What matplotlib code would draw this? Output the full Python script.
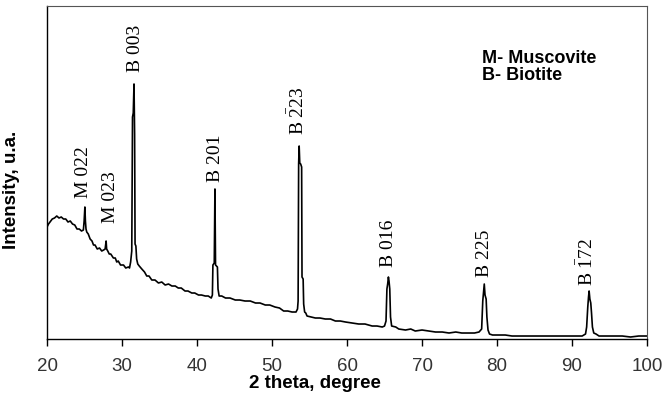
import matplotlib
matplotlib.use("Agg")
import matplotlib.pyplot as plt

# XRD pattern (intensity in arbitrary units)
two_theta = [
    20.0, 20.2, 20.4, 20.7, 21.0, 21.3, 21.6, 21.9, 22.2, 22.5, 22.8, 23.1,
    23.4, 23.7, 24.0, 24.3, 24.6, 24.85, 24.95, 25.05, 25.12, 25.2, 25.3, 25.5,
    25.75, 26.0, 26.2, 26.4, 26.7, 27.0, 27.3, 27.55, 27.75, 27.88, 27.95, 28.1,
    28.3, 28.5, 28.85, 29.1, 29.3, 29.5, 29.8, 30.2, 30.5, 30.85, 31.0, 31.15,
    31.3, 31.4, 31.5, 31.6, 31.68, 31.74, 31.85, 31.95, 32.1, 32.3, 32.64, 33.0,
    33.3, 33.6, 33.97, 34.4, 34.86, 35.3, 35.75, 36.2, 36.65, 37.1, 37.5, 37.9,
    38.4, 38.8, 39.3, 39.7, 40.2, 40.6, 41.1, 41.5, 41.9, 42.05, 42.12, 42.3,
    42.39, 42.47, 42.72, 42.8, 42.95, 43.3, 43.8, 44.4, 45.1, 45.7, 46.4, 47.1,
    47.8, 48.4, 49.1, 49.7, 50.4, 51.0, 51.55, 52.1, 52.67, 53.2, 53.4, 53.48,
    53.55, 53.62, 53.7, 53.82, 53.95, 54.0, 54.15, 54.22, 54.35, 54.5, 54.67, 55.2,
    55.78, 56.4, 57.1, 57.8, 58.45, 59.1, 59.8, 60.7, 61.56, 62.4, 63.35, 64.0,
    64.7, 65.0, 65.2, 65.32, 65.42, 65.52, 65.6, 65.7, 65.8, 65.95, 66.5, 66.9,
    67.8, 68.5, 69.1, 70.0, 70.9, 71.8, 72.7, 73.6, 74.5, 75.3, 76.2, 77.0,
    77.6, 77.95, 78.1, 78.2, 78.3, 78.4, 78.55, 78.65, 78.8, 79.0, 79.4, 80.2,
    81.1, 82.0, 83.0, 84.25, 85.5, 86.6, 87.8, 89.0, 90.2, 91.35, 91.8, 91.95,
    92.1, 92.2, 92.28, 92.38, 92.5, 92.6, 92.72, 92.9, 93.2, 93.6, 94.5, 95.6,
    96.7, 97.8, 98.9, 100.0,
]
intensity = [
    112, 115, 117, 120, 121, 123, 121, 122, 120, 120, 117, 118,
    115, 114, 110, 110, 108, 109, 118, 132, 118, 110, 107, 105,
    100, 98, 94, 94, 90, 91, 88, 89, 90, 98, 90, 88,
    85, 85, 81, 81, 77, 78, 74, 74, 71, 72, 71, 77,
    88, 222, 226, 255, 205, 95, 93, 80, 75, 73, 70, 67,
    63, 63, 59, 59, 56, 57, 54, 55, 53, 53, 51, 51,
    48, 48, 46, 46, 44, 44, 43, 43, 41, 44, 74, 76,
    150, 74, 72, 50, 43, 43, 41, 41, 39, 39, 38, 38,
    36, 36, 34, 34, 32, 31, 28, 28, 27, 27, 30, 38,
    175, 193, 176, 175, 172, 62, 60, 35, 27, 26, 23, 22,
    21, 21, 20, 20, 18, 18, 17, 16, 15, 15, 13, 13,
    12, 13, 18, 50, 55, 62, 58, 50, 22, 13, 12, 10,
    9, 10, 8, 9, 8, 7, 7, 6, 7, 6, 6, 6,
    7, 10, 38, 47, 55, 44, 40, 22, 9, 5, 4, 4,
    4, 3, 3, 3, 3, 3, 3, 3, 3, 3, 5, 12,
    32, 42, 48, 40, 36, 26, 12, 6, 5, 3, 3, 3,
    3, 2, 3, 3,
]

# peak labels: text, position (2theta), base of label (intensity)
peak_labels = ["M 022", "M 023", "B 003", "B 201", r"B $\mathrm{\bar{2}}$23",
               "B 016", "B 225", r"B $\mathrm{\bar{1}}$72"]
peak_x = [24.85, 28.5, 31.75, 42.4, 53.5, 65.5, 78.3, 92.0]
peak_y = [142, 117, 268, 158, 205, 73, 63, 54]

plt.rcParams["mathtext.fontset"] = "custom"
plt.rcParams["mathtext.rm"] = "Liberation Serif"
plt.rcParams["mathtext.it"] = "Liberation Serif"

fig = plt.figure(figsize=(6.63, 4.02), dpi=100)
ax = fig.add_axes([0.0709, 0.1542, 0.905, 0.8284])

ax.plot(two_theta, intensity, color="black", lw=1.2)

for lab, x, y in zip(peak_labels, peak_x, peak_y):
    ax.text(x, y, lab, rotation=90, ha="center", va="bottom",
            fontsize=14, family="Liberation Serif")

ax.text(0.725, 0.87, "M- Muscovite\nB- Biotite", transform=ax.transAxes,
        ha="left", va="top", fontsize=13, fontweight="bold",
        family="Liberation Sans", linespacing=0.95)

ax.set_xlim(20, 100)
ax.set_ylim(0, 333)
ax.set_xticks(range(20, 101, 10))
ax.set_yticks([])
ax.tick_params(axis="x", direction="out", length=5, width=1,
               labelsize=13.5, labelcolor="#333333", pad=8)
for lab in ax.get_xticklabels():
    lab.set_family("Liberation Sans")

for side in ["top", "right"]:
    ax.spines[side].set_color("#555555")
    ax.spines[side].set_linewidth(0.8)
for side in ["bottom", "left"]:
    ax.spines[side].set_color("black")
    ax.spines[side].set_linewidth(1.0)

ax.set_xlabel("2 theta, degree", fontsize=13.5, fontweight="bold",
              family="Liberation Sans")
ax.xaxis.set_label_coords(0.447, -0.105)
ax.set_ylabel("Intensity, u.a.", fontsize=13.5, fontweight="bold",
              family="Liberation Sans")
ax.yaxis.set_label_coords(-0.045, 0.45)

fig.savefig("out.png", dpi=100)
